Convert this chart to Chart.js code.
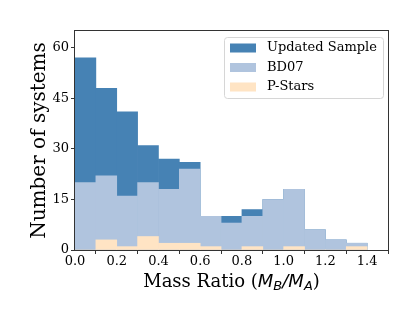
<!DOCTYPE html>
<html>
<head>
<meta charset="utf-8">
<script src="https://cdn.jsdelivr.net/npm/chart.js@4.4.1/dist/chart.umd.min.js"></script>
<style>
  html, body { margin: 0; padding: 0; background: #fff; }
  #wrap { width: 418px; height: 313px; }
</style>
</head>
<body>
<div id="wrap"><canvas id="histChart"></canvas></div>
<script>
// histogram bins (left edges) and counts
const binStarts = [0.0, 0.1, 0.2, 0.3, 0.4, 0.5, 0.6, 0.7, 0.8, 0.9, 1.0, 1.1, 1.2, 1.3];
const binWidth = 0.1;
const updatedSample = [57, 48, 41, 31, 27, 26, 10, 10, 12, 15, 18, 6, 3, 2];
const bd07 = [20, 22, 16, 20, 18, 24, 10, 8, 10, 15, 18, 6, 3, 2];
const pStars = [0, 3, 1, 4, 2, 2, 1, 0, 1, 0, 1, 0, 0, 1];
const seriesNames = ['Updated Sample', 'BD07', 'P-Stars'];
const xTicks = [0.0, 0.2, 0.4, 0.6, 0.8, 1.0, 1.2, 1.4];
const yTicks = [0, 15, 30, 45, 60];

const SERIF = '"DejaVu Serif", serif';
const FRAME = '#333';

function toBars(values) {
  return binStarts.map((s, i) => ({ x: s + binWidth / 2, y: values[i] }));
}

// matplotlib-like legend box in the upper right
const legendBox = {
  id: 'legendBox',
  afterDraw(chart) {
    const ctx = chart.ctx;
    const x = 224, y = 37, w = 159, h = 61;
    ctx.save();
    ctx.beginPath();
    ctx.roundRect(x + 0.5, y + 0.5, w, h, 3);
    ctx.fillStyle = 'rgba(255,255,255,0.8)';
    ctx.fill();
    ctx.strokeStyle = '#d6d6d6';
    ctx.lineWidth = 1;
    ctx.stroke();
    ctx.font = '13px ' + SERIF;
    ctx.textBaseline = 'middle';
    chart.data.datasets.forEach((ds, i) => {
      const cy = 48 + i * 19.5;
      ctx.fillStyle = ds.backgroundColor;
      ctx.fillRect(230, cy - 4.5, 26, 9);
      ctx.fillStyle = '#000';
      ctx.fillText(ds.label, 267, cy);
    });
    ctx.restore();
  }
};

// axes frame on all four sides
const frame = {
  id: 'frame',
  afterDatasetsDraw(chart) {
    const { left, right, top, bottom } = chart.chartArea;
    const ctx = chart.ctx;
    ctx.save();
    ctx.strokeStyle = FRAME;
    ctx.lineWidth = 1;
    ctx.strokeRect(Math.round(left) - 0.5, Math.round(top) - 0.5,
      Math.round(right - left) + 1, Math.round(bottom - top) + 1);
    ctx.restore();
  }
};

// x label with the math part in italics
const xLabel = {
  id: 'xLabel',
  afterDraw(chart) {
    const ctx = chart.ctx;
    const { left, right } = chart.chartArea;
    const parts = [
      { t: 'Mass Ratio (', f: '18px ' + SERIF, dy: 0 },
      { t: 'M', f: 'italic 18px "DejaVu Sans"', dy: 0 },
      { t: 'B', f: 'italic 13px "DejaVu Sans"', dy: 3 },
      { t: '/', f: 'italic 18px "DejaVu Sans"', dy: 0 },
      { t: 'M', f: 'italic 18px "DejaVu Sans"', dy: 0 },
      { t: 'A', f: 'italic 13px "DejaVu Sans"', dy: 3 },
      { t: ')', f: '18px ' + SERIF, dy: 0 }
    ];
    ctx.save();
    let total = 0;
    parts.forEach(p => { ctx.font = p.f; p.w = ctx.measureText(p.t).width; total += p.w; });
    let x = (left + right) / 2 - total / 2;
    const base = 287;
    ctx.fillStyle = '#000';
    ctx.textBaseline = 'alphabetic';
    parts.forEach(p => {
      ctx.font = p.f;
      ctx.fillText(p.t, x, base + p.dy);
      x += p.w;
    });
    ctx.restore();
  }
};

const colors = ['#4682b4', '#b0c4de', '#ffe4c4'];
const seriesValues = [updatedSample, bd07, pStars];

new Chart(document.getElementById('histChart'), {
  type: 'bar',
  data: {
    datasets: seriesNames.map((name, i) => ({
      label: name,
      data: toBars(seriesValues[i]),
      backgroundColor: colors[i],
      borderWidth: 0,
      barPercentage: 1,
      categoryPercentage: 1,
      grouped: false,
      order: 3 - i
    }))
  },
  options: {
    responsive: true,
    maintainAspectRatio: false,
    animation: false,
    layout: { padding: { left: 0, right: 30, top: 31, bottom: 0 } },
    plugins: {
      legend: { display: false },
      tooltip: { enabled: false }
    },
    scales: {
      x: {
        type: 'linear',
        min: 0,
        max: 1.5,
        offset: false,
        afterFit: s => { s.height = 63; },
        afterBuildTicks: s => { s.ticks = xTicks.map(v => ({ value: v })); },
        grid: { drawOnChartArea: false, drawTicks: true, tickLength: 4, color: FRAME },
        border: { display: false },
        ticks: {
          autoSkip: false,
          maxRotation: 0,
          padding: 0,
          color: '#000',
          font: { family: SERIF, size: 13 },
          callback: v => v.toFixed(1)
        }
      },
      y: {
        min: 0,
        max: 65,
        afterFit: s => { s.width = 75; },
        afterBuildTicks: s => { s.ticks = yTicks.map(v => ({ value: v })); },
        grid: { drawOnChartArea: false, drawTicks: true, tickLength: 4, color: FRAME },
        border: { display: false },
        ticks: {
          padding: 2,
          color: '#000',
          font: { family: SERIF, size: 13 }
        },
        title: {
          display: true,
          text: 'Number of systems',
          color: '#000',
          font: { family: SERIF, size: 20 },
          padding: { top: 28, bottom: 0 }
        }
      }
    }
  },
  plugins: [frame, legendBox, xLabel]
});
</script>
</body>
</html>
